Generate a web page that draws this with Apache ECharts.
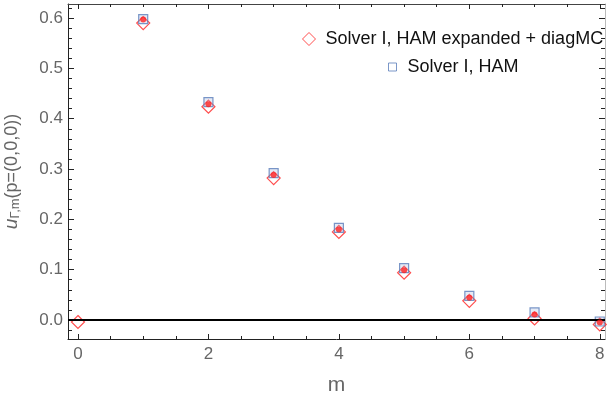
<!DOCTYPE html>
<html>
<head>
<meta charset="utf-8">
<script src="https://cdn.jsdelivr.net/npm/echarts@6/dist/echarts.min.js"></script>
<style>
  html, body { margin: 0; padding: 0; background: #fff; }
  #chart { width: 608px; height: 403px; }
</style>
</head>
<body>
<div id="chart"></div>
<script>
// data
const mValues = [0, 1, 2, 3, 4, 5, 6, 7, 8];
const expandedDiagMC = [-0.004, 0.590, 0.424, 0.282, 0.175, 0.094, 0.038, 0.003, -0.009];
const hamSquares = [null, 0.598, 0.433, 0.292, 0.183, 0.103, 0.048, 0.015, -0.003];
const diagMCDots = [null, 0.597, 0.429, 0.288, 0.180, 0.099, 0.044, 0.011, -0.005];

const xMajorTicks = [0, 2, 4, 6, 8];
const xMinorTicks = [0, 0.5, 1, 1.5, 2, 2.5, 3, 3.5, 4, 4.5, 5, 5.5, 6, 6.5, 7, 7.5, 8];
const yMajorTicks = [0, 0.1, 0.2, 0.3, 0.4, 0.5, 0.6];
const yMinorTicks = [-0.02, 0, 0.02, 0.04, 0.06, 0.08, 0.1, 0.12, 0.14, 0.16, 0.18, 0.2,
  0.22, 0.24, 0.26, 0.28, 0.3, 0.32, 0.34, 0.36, 0.38, 0.4, 0.42, 0.44, 0.46, 0.48,
  0.5, 0.52, 0.54, 0.56, 0.58, 0.6, 0.62];

const nameA = 'Solver I, HAM expanded + diagMC';
const nameB = 'Solver I, HAM';

const X_MIN = -0.153, X_MAX = 8.08;
const Y_MIN = -0.0378, Y_MAX = 0.628;
const FONT = 'Liberation Sans, Arial';
const labelColor = '#666';
const red = '#ff2020';
const blue = '#5a7dba';

function pairs(ys) {
  const out = [];
  ys.forEach((v, i) => { if (v !== null) out.push([mValues[i], v]); });
  return out;
}

function xAxisCfg(pos, ticks, len, withLabels, withLine, lineColor) {
  return {
    type: 'value', position: pos, min: X_MIN, max: X_MAX,
    splitLine: {show: false},
    axisLine: {show: withLine, onZero: false, lineStyle: {color: lineColor, width: 1}},
    axisTick: {show: true, inside: true, length: len, customValues: ticks,
      lineStyle: {color: '#222', width: 1}},
    axisLabel: withLabels
      ? {show: true, customValues: xMajorTicks, color: labelColor, fontSize: 17,
         fontFamily: FONT, margin: 7}
      : {show: false}
  };
}

function yAxisCfg(pos, ticks, len, withLabels, withLine, lineColor) {
  return {
    type: 'value', position: pos, min: Y_MIN, max: Y_MAX,
    splitLine: {show: false},
    axisLine: {show: withLine, onZero: false, lineStyle: {color: lineColor, width: 1}},
    axisTick: {show: true, inside: true, length: len, customValues: ticks,
      lineStyle: {color: '#222', width: 1}},
    axisLabel: withLabels
      ? {show: true, customValues: yMajorTicks, color: labelColor, fontSize: 17,
         fontFamily: FONT, margin: 5,
         formatter: v => v.toFixed(1)}
      : {show: false}
  };
}

const chart = echarts.init(document.getElementById('chart'));

const xAxes = [
  xAxisCfg('bottom', xMajorTicks, 5, true, true, '#222'),
  xAxisCfg('bottom', xMinorTicks, 3, false, false, '#222'),
  xAxisCfg('top', xMajorTicks, 5, false, true, '#444'),
  xAxisCfg('top', xMinorTicks, 3, false, false, '#444')
];
xAxes[0].name = 'm';
xAxes[0].nameLocation = 'middle';
xAxes[0].nameGap = 36;
xAxes[0].nameTextStyle = {color: labelColor, fontSize: 21, fontFamily: FONT};

const yAxes = [
  yAxisCfg('left', yMajorTicks, 6, true, true, '#222'),
  yAxisCfg('left', yMinorTicks, 4, false, false, '#222'),
  yAxisCfg('right', yMajorTicks, 6, false, true, '#bbb'),
  yAxisCfg('right', yMinorTicks, 4, false, false, '#bbb')
];
yAxes[0].name = '{u|u}{s|Γ,m}{n|(p=(0,0,0))}';
yAxes[0].nameLocation = 'middle';
yAxes[0].nameRotate = 90;
yAxes[0].nameGap = 46;
yAxes[0].nameTextStyle = {
  color: labelColor, fontFamily: FONT,
  rich: {
    u: {fontSize: 19, fontStyle: 'italic', color: labelColor, fontFamily: FONT},
    s: {fontSize: 13, color: labelColor, verticalAlign: 'bottom', padding: [7, 0, 0, 0],
        fontFamily: FONT},
    n: {fontSize: 18, color: labelColor, fontFamily: FONT}
  }
};

chart.setOption({
  animation: false,
  grid: {left: 68, right: 3, top: 4, bottom: 64, containLabel: false, outerBoundsMode: 'none'},
  legend: [
    {
      data: [{name: nameA, icon: 'diamond',
        itemStyle: {color: '#fff', borderColor: red, borderWidth: 1}}],
      left: 297, top: 25, itemWidth: 13, itemHeight: 13,
      textStyle: {color: '#111', fontSize: 18, fontFamily: FONT,
        padding: [0, 0, 0, 5]},
      selectedMode: false
    },
    {
      data: [{name: nameB, icon: 'rect',
        itemStyle: {color: '#fff', borderColor: blue, borderWidth: 1}}],
      left: 383, top: 53, itemWidth: 8, itemHeight: 8,
      textStyle: {color: '#111', fontSize: 18, fontFamily: FONT,
        padding: [0, 0, 0, 6]},
      selectedMode: false
    }
  ],
  xAxis: xAxes,
  yAxis: yAxes,
  series: [
    {
      name: nameA, type: 'scatter', symbol: 'diamond', symbolSize: 13,
      data: pairs(expandedDiagMC),
      itemStyle: {color: 'rgba(255,255,255,0)', borderColor: red, borderWidth: 1.2},
      markLine: {
        silent: true, symbol: 'none', label: {show: false},
        lineStyle: {color: '#000', width: 2, type: 'solid'},
        data: [{yAxis: 0}]
      },
      z: 3
    },
    {
      name: nameB, type: 'scatter', symbol: 'rect', symbolSize: 9,
      data: pairs(hamSquares),
      itemStyle: {color: 'rgba(160,180,220,0.35)', borderColor: blue, borderWidth: 1.2},
      z: 4
    },
    {
      name: 'diagMC', type: 'scatter', symbol: 'circle', symbolSize: 6,
      data: pairs(diagMCDots),
      itemStyle: {color: red},
      z: 5
    }
  ]
});
</script>
</body>
</html>
